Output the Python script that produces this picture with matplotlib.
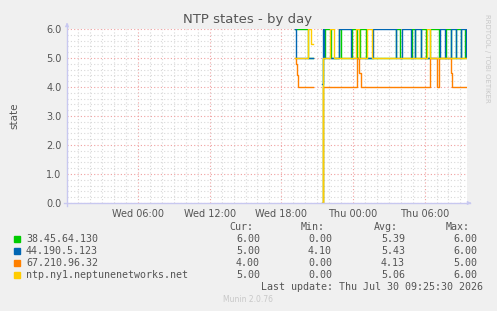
import matplotlib
matplotlib.use("Agg")
import matplotlib.pyplot as plt
import numpy as np
from matplotlib.ticker import MultipleLocator, FixedLocator

nan = np.nan

# hours since Wed 00:00, values are step starts
green_t = [19.15, 20.24, 20.66, 21.41, 21.49, 21.66, 22.16, 22.83, 23.00, 23.92, 24.34, 24.59,
           25.10, 27.61, 27.94, 28.95, 29.20, 29.70, 30.12, 30.46, 31.21, 31.80, 32.21, 32.63,
           33.05, 33.39, 33.55]
green_v = [6, 5, nan, 0, 5, 6, 5, 6, 5, 6, 5, 6,
           5, 6, 5, 6, 5, 6, 5, 6, 5, 6, 5, 6,
           5, 6, 6]

blue_t = [19.15, 19.23, 20.66, 21.41, 21.49, 21.58, 22.83, 23.84, 25.68, 27.61, 28.11, 28.86,
          29.20, 29.70, 31.29, 31.71, 32.21, 32.63, 33.05, 33.47, 33.55]
blue_v = [6, 5, nan, 4.1, 6, 5, 6, 5, 6, 5, 6, 5,
          6, 5, 6, 5, 6, 5, 6, 5, 5]

orange_t = [19.15, 19.23, 19.32, 19.40, 20.66, 21.41, 21.49, 24.34, 24.51, 24.67, 30.46, 31.04,
            31.21, 32.21, 32.30, 33.55]
orange_v = [5, 4.8, 4.4, 4, nan, 0, 4, 5, 4.5, 4, 5, 4,
            5, 4.5, 4, 4]

yellow_t = [19.15, 20.24, 20.49, 20.66, 21.41, 21.49, 22.08, 22.42, 24.26, 24.51, 25.18, 25.60,
            30.20, 30.46, 33.55]
yellow_v = [5, 6, 5.5, nan, 0, 5, 6, 5, 6, 5, 6, 5,
            6, 5, 5]

names = ["38.45.64.130", "44.190.5.123", "67.210.96.32", "ntp.ny1.neptunenetworks.net"]
colors = ["#00CC00", "#0066B3", "#FF8000", "#FFCC00"]
cur = ["6.00", "5.00", "4.00", "5.00"]
mins = ["0.00", "4.10", "0.00", "0.00"]
avgs = ["5.39", "5.43", "4.13", "5.06"]
maxs = ["6.00", "6.00", "5.00", "6.00"]

tick_pos = [6, 12, 18, 24, 30]
tick_lab = ["Wed 06:00", "Wed 12:00", "Wed 18:00", "Thu 00:00", "Thu 06:00"]

W, H = 497, 311
fig = plt.figure(figsize=(W / 100, H / 100), dpi=100, facecolor="#F0F0F0")
ax = fig.add_axes([67 / W, (H - 203) / H, 400 / W, 174 / H])
ax.set_facecolor("white")

series = [(green_t, green_v), (blue_t, blue_v), (orange_t, orange_v), (yellow_t, yellow_v)]
for (t, v), c in zip(series, colors):
    ax.plot(t, v, drawstyle="steps-post", color=c, lw=1.0, zorder=3)

ax.set_xlim(0.05, 33.55)
ax.set_ylim(0, 6)
ax.xaxis.set_major_locator(FixedLocator(tick_pos))
ax.set_xticklabels(tick_lab)
ax.xaxis.set_minor_locator(MultipleLocator(1))
ax.yaxis.set_major_locator(MultipleLocator(1))
ax.yaxis.set_minor_locator(MultipleLocator(0.2))
ax.set_yticklabels(["%.1f" % y for y in ax.get_yticks()])
ax.grid(which="minor", color="#D8D8D8", linestyle=(0, (1, 2)), lw=0.8)
ax.grid(which="major", color="#F0A0A0", linestyle=(0, (1, 2)), lw=0.8)
ax.tick_params(which="both", length=0, labelsize=7, colors="#555555", pad=4)
for s in ax.spines.values():
    s.set_visible(False)

ax.set_ylabel("state", fontsize=7.5, color="#555555")
ax.yaxis.set_label_coords(-0.12, 0.5)

# axis lines with arrows
fig.add_artist(plt.Line2D([67 / W, 67 / W], [(H - 206) / H, (H - 24) / H], color="#C8C8F0", lw=1))
fig.add_artist(plt.Line2D([64 / W, 470 / W], [(H - 203) / H, (H - 203) / H], color="#C8C8F0", lw=1))
ax.annotate("", xy=(67 / W, (H - 20) / H), xytext=(67 / W, (H - 27) / H), xycoords="figure fraction",
            arrowprops=dict(arrowstyle="-|>", color="#C8C8F0", lw=0.5, mutation_scale=6))
ax.annotate("", xy=(474 / W, (H - 203) / H), xytext=(467 / W, (H - 203) / H), xycoords="figure fraction",
            arrowprops=dict(arrowstyle="-|>", color="#C8C8F0", lw=0.5, mutation_scale=6))

fig.text(248 / W, 1 - 19 / H, "NTP states - by day", ha="center", va="center", fontsize=9.5, color="#555555")
fig.text(487 / W, 1 - 58 / H, "RRDTOOL / TOBI OETIKER", rotation=270, ha="center", va="center",
         fontsize=5, color="#C8C8C8")

mono = dict(family="DejaVu Sans Mono", fontsize=7.2, color="#555555", va="center")
fig.text(253 / W, 1 - 227 / H, "Cur:", ha="right", **mono)
fig.text(325 / W, 1 - 227 / H, "Min:", ha="right", **mono)
fig.text(398 / W, 1 - 227 / H, "Avg:", ha="right", **mono)
fig.text(470 / W, 1 - 227 / H, "Max:", ha="right", **mono)
for i in range(4):
    y = 1 - (239 + 12 * i) / H
    fig.patches.append(plt.Rectangle((14 / W, y - 3 / H), 6 / W, 6 / H, color=colors[i],
                                     transform=fig.transFigure, figure=fig))
    fig.text(26 / W, y, names[i], ha="left", **mono)
    fig.text(260 / W, y, cur[i], ha="right", **mono)
    fig.text(332 / W, y, mins[i], ha="right", **mono)
    fig.text(405 / W, y, avgs[i], ha="right", **mono)
    fig.text(477 / W, y, maxs[i], ha="right", **mono)
fig.text(483 / W, 1 - 287 / H, "Last update: Thu Jul 30 09:25:30 2026", ha="right", **mono)
fig.text(248 / W, 1 - 299 / H, "Munin 2.0.76", ha="center", va="center", fontsize=5.5, color="#C8C8C8")

plt.savefig("out.png", dpi=100, facecolor=fig.get_facecolor())
